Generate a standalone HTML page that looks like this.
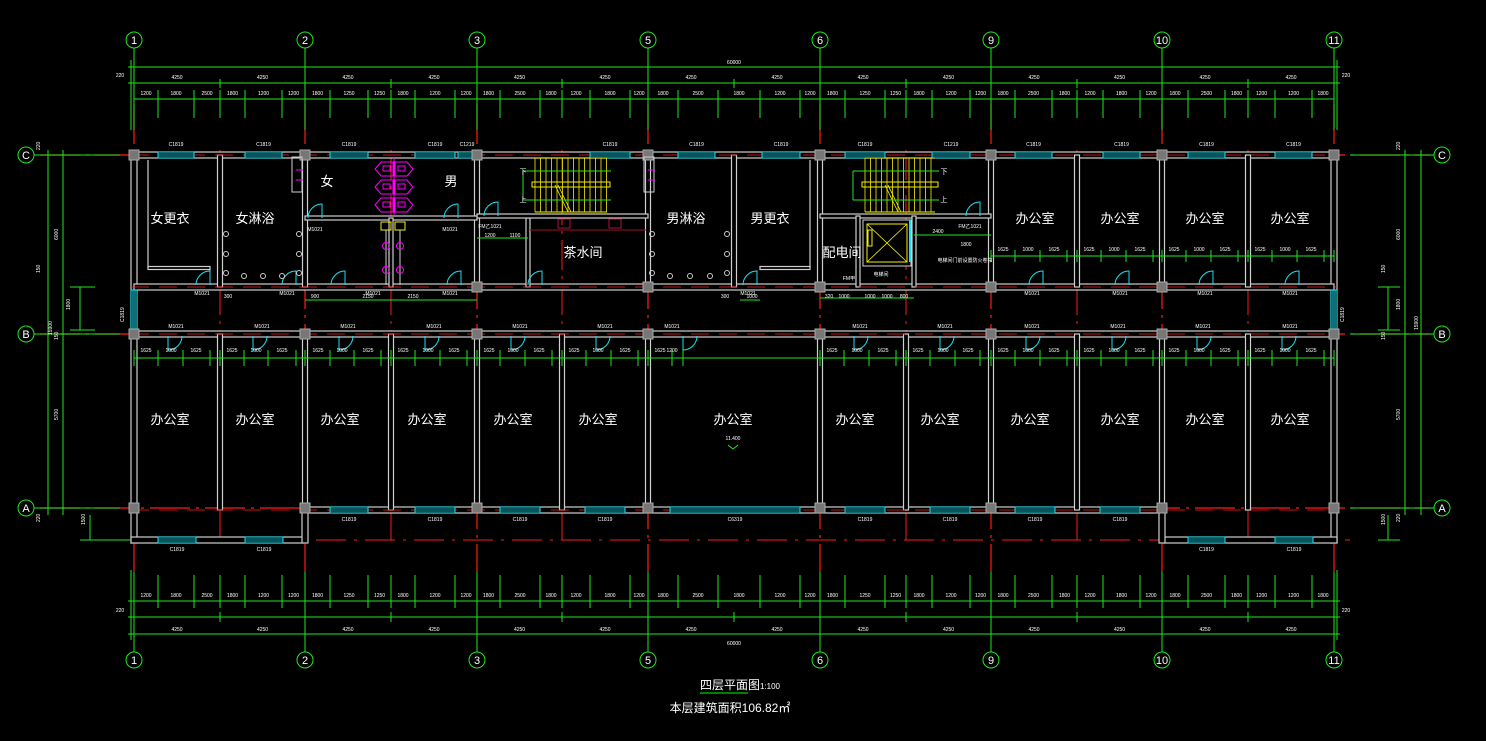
<!DOCTYPE html>
<html><head><meta charset="utf-8"><style>
html,body{margin:0;padding:0;background:#000;}
svg{display:block}
</style></head><body>
<svg id="s" width="1486" height="741" xmlns="http://www.w3.org/2000/svg" font-family="'Liberation Sans','Noto Sans CJK SC',sans-serif">
<rect width="1486" height="741" fill="#000"/>
<g id="g"></g>
<text x="740" y="689" fill="#fff" font-size="12" text-anchor="middle" font-family="'Liberation Sans','Noto Sans CJK SC',sans-serif">四层平面图<tspan font-size="8">1:100</tspan></text>
<line x1="700" y1="693" x2="748" y2="693" stroke="#0f0" stroke-width="1"/>
<text x="730" y="712" fill="#fff" font-size="12" text-anchor="middle" font-family="'Liberation Sans','Noto Sans CJK SC',sans-serif">本层建筑面积106.82㎡</text>
</svg>
<script>
var g=document.getElementById('g'),h='';
function L(x1,y1,x2,y2,c,w,d){h+='<line x1="'+x1+'" y1="'+y1+'" x2="'+x2+'" y2="'+y2+'" stroke="'+c+'" stroke-width="'+(w||1)+'"'+(d?' stroke-dasharray="'+d+'"':'')+'/>';}
function R(x,y,w,hh,c,f,sw){h+='<rect x="'+x+'" y="'+y+'" width="'+w+'" height="'+hh+'" stroke="'+c+'" fill="'+(f||'none')+'" stroke-width="'+(sw||1)+'"/>';}
function T(x,y,s,sz,c){h+='<text x="'+x+'" y="'+y+'" fill="'+(c||'#fff')+'" font-size="'+(sz||6)+'" text-anchor="middle">'+s+'</text>';}
var G='#1ee81e',RED='#ff1a1a',W='#cfcfcf',CY='#19e0f0',Y='#f5f000',M='#ff00ff';
var cols=[134,305,477,648,820,991,1162,1334],lab=['1','2','3','5','6','9','10','11'];
var rows=[155,334,508],rl=['C','B','A'];
cols.forEach(function(x){L(x,104,x,572,RED,1.2,'40 6 3 6');});
rows.forEach(function(y){L(40,y,1430,y,RED,1.2,'40 6 3 6');});
L(120,540,1350,540,RED,1,'30 8 3 8');
[220,391,562,906,1077,1248].forEach(function(x){L(x,150,x,545,RED,1,'30 6 3 6');});
cols.forEach(function(x,i){
 h+='<circle cx="'+x+'" cy="40" r="8" stroke="'+G+'" fill="none"/>';T(x,44,lab[i],11);
 h+='<circle cx="'+x+'" cy="660" r="8" stroke="'+G+'" fill="none"/>';T(x,664,lab[i],11);
 L(x,48,x,130,G);L(x,572,x,652,G);
});
rows.forEach(function(y,i){
 h+='<circle cx="26" cy="'+y+'" r="8" stroke="'+G+'" fill="none"/>';T(26,y+4,rl[i],11);
 h+='<circle cx="1442" cy="'+y+'" r="8" stroke="'+G+'" fill="none"/>';T(1442,y+4,rl[i],11);
 L(34,y,120,y,G);L(1350,y,1434,y,G);
});
L(128,67,1340,67,G);L(128,83,1340,83,G);L(134,99,1334,99,G);
T(734,64,'60000',5);
var q=[134,220,305,391,477,562,648,734,820,906,991,1077,1162,1248,1334];
['4250','4250','4250','4250','4250','4250','4250','4250','4250','4250','4250','4250','4250','4250'].forEach(function(t,i){T((q[i]+q[i+1])/2,79,t,5);T((q[i]+q[i+1])/2,631,t,5);});
q.forEach(function(x){L(x,79,x,88,G);L(x,612,x,622,G);});
var det=[134,158,194,220,245,282,305,330,368,391,415,455,477,500,540,562,590,630,648,678,718,760,800,820,845,885,906,932,970,991,1015,1052,1077,1103,1140,1162,1188,1225,1248,1275,1312,1334];
var dl=['1200','1800','2500','1800','1200','1200','1800','1250','1250','1800','1200','1200','1800','2500','1800','1200','1800'];
for(var i=0;i<det.length;i++){L(det[i],90,det[i],118,G);L(det[i],575,det[i],608,G);if(i<det.length-1){var t=dl[i%dl.length];T((det[i]+det[i+1])/2,95,t,5);T((det[i]+det[i+1])/2,597,t,5);}}
L(128,601,1340,601,G);L(128,617,1340,617,G);L(128,634,1340,634,G);
T(734,645,'60000',5);
T(120,77,'220',5);T(1346,77,'220',5);T(120,612,'220',5);T(1346,612,'220',5);
L(131,60,131,130,G);L(1337,60,1337,130,G);L(131,570,131,640,G);L(1337,570,1337,640,G);
L(48,150,48,515,G);L(63,150,63,515,G);L(1405,150,1405,515,G);L(1421,150,1421,515,G);
L(80,287,80,330,G);L(1388,287,1388,330,G);L(70,287,95,287,G);L(70,330,95,330,G);L(1378,287,1400,287,G);L(1378,330,1400,330,G);
L(90,515,90,540,G);L(80,540,130,540,G);L(1378,540,1400,540,G);L(1388,515,1388,540,G);
[[40,150,'220'],[58,240,'6000'],[40,273,'150'],[70,310,'1800'],[58,340,'150'],[58,420,'5700'],[40,522,'220'],[85,525,'1500'],[1400,150,'220'],[1400,240,'6000'],[1385,273,'150'],[1400,310,'1800'],[1385,340,'150'],[1400,420,'5700'],[1400,522,'220'],[1385,525,'1500'],[1418,330,'15900'],[52,335,'15900']].forEach(function(a){h+='<text x="'+a[0]+'" y="'+a[1]+'" fill="#fff" font-size="5" transform="rotate(-90 '+a[0]+' '+a[1]+')">'+a[2]+'</text>';});
function HW(x1,x2,y,t){t=t||6;R(x1,y-t/2,x2-x1,t,W,'#000',1.2);}
function VW(x,y1,y2,t){t=t||6;R(x-t/2,y1,t,y2-y1,W,'#000',1.2);}
HW(131,1337,155);
VW(134,152,543);VW(1334,152,543);
HW(305,1162,510);HW(131,305,540);HW(1162,1337,540);VW(305,508,543);VW(1162,508,543);
HW(134,991,287);HW(991,1334,287);HW(134,1334,334);
[220,305,477,648,734,820,991,1077,1162,1248].forEach(function(x){VW(x,155,287,5);});
[220,305,391,477,562,648,820,906,991,1077,1162,1248].forEach(function(x){VW(x,334,510,5);});
VW(528,218,287,4);HW(477,648,216,4);HW(820,991,216,4);VW(858,216,287,4);VW(914,216,287,4);
HW(305,477,218,4);VW(391,218,287,4);
HW(148,210,268,3);L(148,160,148,268,W,1.2);L(210,268,210,282,W);
HW(760,810,268,3);L(810,160,810,268,W,1.2);
[155,287,334,510].forEach(function(y){L(131,y,1337,y,RED,0.8,'18 10');});
function WH(x1,x2,y,lb,ly){R(x1,y-3,x2-x1,6,CY,'#000',1);L(x1,y-1,x2,y-1,CY,0.8);L(x1,y+1,x2,y+1,CY,0.8);if(lb)T((x1+x2)/2,ly,lb,5);}
[[158,194,'C1819'],[245,282,'C1819'],[330,368,'C1819'],[415,455,'C1819'],[458,476,'C1219'],[590,630,'C1819'],[678,715,'C1819'],[762,800,'C1819'],[845,885,'C1819'],[932,970,'C1219'],[1015,1052,'C1819'],[1103,1140,'C1819'],[1188,1225,'C1819'],[1275,1312,'C1819']].forEach(function(a){WH(a[0],a[1],155,a[2],146);});
[[330,368,'C1819'],[415,455,'C1819'],[500,540,'C1819'],[585,625,'C1819'],[670,800,'C6319'],[845,885,'C1819'],[930,970,'C1819'],[1015,1055,'C1819'],[1100,1140,'C1819']].forEach(function(a){WH(a[0],a[1],510,a[2],521);});
[[158,196,'C1819'],[245,283,'C1819'],[1188,1225,'C1819'],[1275,1313,'C1819']].forEach(function(a){WH(a[0],a[1],540,a[2],551);});
R(131,290,6,40,CY,'#000');L(133,290,133,330,CY);L(135,290,135,330,CY);
R(1331,290,6,40,CY,'#000');L(1333,290,1333,330,CY);L(1335,290,1335,330,CY);
h+='<text x="124" y="322" fill="#fff" font-size="5" transform="rotate(-90 124 322)">C1819</text>';
h+='<text x="1344" y="322" fill="#fff" font-size="5" transform="rotate(-90 1344 322)">C1819</text>';
cols.forEach(function(x){[155,287,334,508].forEach(function(y){if(y==287&&[134,220,305,1334].indexOf(x)>=0)return;R(x-5,y-5,10,10,'#aaa','#777');});});
function DR(x,y,dir){var r=14;if(dir==1){h+='<path d="M'+x+' '+y+' L'+x+' '+(y-r)+' A'+r+' '+r+' 0 0 0 '+(x-r)+' '+y+'" stroke="'+CY+'" fill="none"/>';}
else{h+='<path d="M'+x+' '+y+' L'+x+' '+(y+r)+' A'+r+' '+r+' 0 0 0 '+(x+r)+' '+y+'" stroke="'+CY+'" fill="none"/>';}}
[210,296,345,461,757].forEach(function(x){DR(x,285,1);});
[1043,1129,1213,1299].forEach(function(x){DR(x,285,1);});
[168,253,339,425,511,596,683,854,940,1026,1112,1197,1282].forEach(function(x){DR(x,336,0);});
DR(322,218,1);DR(458,218,1);DR(542,285,1);DR(980,216,1);DR(498,216,1);
[[202,295,'M1021'],[287,295,'M1021'],[373,295,'M1021'],[450,295,'M1021'],[748,295,'M1021'],[1032,295,'M1021'],[1120,295,'M1021'],[1205,295,'M1021'],[1290,295,'M1021'],[315,231,'M1021'],[450,231,'M1021'],[849,280,'FM甲'],[490,228,'FM乙1021'],[970,228,'FM乙1021']].forEach(function(a){T(a[0],a[1],a[2],5);});
[176,262,348,434,520,605,672,860,945,1032,1118,1203,1290].forEach(function(x){T(x,328,'M1021',5);});
L(134,358,1334,358,G);L(991,256,1334,256,G);
[134,158,183,210,220,244,268,296,305,330,354,381,391,415,440,467,477,500,525,552,562,586,611,638,648,672,683,820,844,869,896,906,930,955,980,991,1015,1040,1067,1077,1101,1126,1153,1162,1186,1211,1238,1248,1272,1297,1324,1334].forEach(function(x){L(x,350,x,366,G);});
[[146,352,'1625'],[171,352,'1000'],[196,352,'1625'],[232,352,'1625'],[256,352,'1000'],[282,352,'1625'],[318,352,'1625'],[342,352,'1000'],[368,352,'1625'],[403,352,'1625'],[428,352,'1000'],[454,352,'1625'],[489,352,'1625'],[513,352,'1000'],[539,352,'1625'],[574,352,'1625'],[598,352,'1000'],[625,352,'1625'],[660,352,'1625'],[672,352,'1200'],[832,352,'1625'],[857,352,'1000'],[883,352,'1625'],[918,352,'1625'],[943,352,'1000'],[968,352,'1625'],[1003,352,'1625'],[1028,352,'1000'],[1054,352,'1625'],[1089,352,'1625'],[1114,352,'1000'],[1140,352,'1625'],[1174,352,'1625'],[1199,352,'1000'],[1225,352,'1625'],[1260,352,'1625'],[1285,352,'1000'],[1311,352,'1625']].forEach(function(a){T(a[0],a[1],a[2],5);});
[1003,1028,1054,1089,1114,1140,1174,1199,1225,1260,1285,1311].forEach(function(x,i){T(x,251,['1625','1000','1625'][i%3],5);});
[991,1015,1040,1067,1077,1101,1126,1153,1162,1186,1211,1238,1248,1272,1297,1324,1334].forEach(function(x){L(x,250,x,262,G);});
L(305,300,477,300,G);L(820,298,914,298,G);L(740,300,760,300,G);L(477,238,528,238,G);L(914,235,991,235,G);
[[315,298,'900'],[368,298,'2150'],[413,298,'2150'],[228,298,'300'],[725,298,'300'],[752,298,'1000'],[829,298,'320'],[844,298,'1000'],[870,298,'1000'],[887,298,'1000'],[904,298,'800'],[938,233,'2400'],[966,246,'1800'],[490,237,'1200'],[515,237,'1100'],[965,262,'电梯间门前设置防火卷帘'],[881,276,'电梯间']].forEach(function(a){T(a[0],a[1],a[2],5);});
function ST(x1,x2){for(var x=x1;x<=x2;x+=5.5){L(x,158,x,212,Y,0.8);}L(x1,158,x2,158,Y);L(x1,212,x2,212,Y);R(x1-3,182,x2-x1+6,5,Y);L(x1+20,185,x1+33,212,Y,0.8);L(x1+23,185,x1+36,212,Y,0.8);
L(x1-12,171,x2+4,171,G);L(x1-12,200,x2+4,200,G);L(x1-12,171,x1-12,200,G);}
ST(535,607);ST(865,935);
T(523,174,'下',7);T(523,202,'上',7);T(944,174,'下',7);T(944,202,'上',7);
R(863,220,48,46,W,'#000');R(867,224,40,38,Y);L(867,224,907,262,Y,0.8);L(907,224,867,262,Y,0.8);R(868,230,4,16,Y);
L(910,220,910,262,CY,2);
L(530,230,646,230,'#a01030');R(558,219,12,9,'#b01040');R(609,219,12,9,'#b01040');
function TS(x,y,f){var s=f?-1:1;h+='<path d="M'+x+' '+y+' l'+(-12*s)+' 0 l'+(-6*s)+' 7 l'+(6*s)+' 7 l'+(12*s)+' 0 z" stroke="'+M+'" fill="none"/>';R(f?x+3:x-10,y+4,7,5,M);}
[162,180,198].forEach(function(y){TS(393,y,0);TS(395,y,1);});
L(394,158,394,216,M);
R(381,222,10,8,Y);R(395,222,10,8,Y);L(386,230,386,285,W);L(400,230,400,285,W);
[246,270].forEach(function(y){h+='<circle cx="386" cy="'+y+'" r="3.5" stroke="'+M+'" fill="none"/><circle cx="400" cy="'+y+'" r="3.5" stroke="'+M+'" fill="none"/>';});
R(292,157,10,35,W);R(644,157,10,35,W);L(296,170,303,170,M);L(296,180,303,180,M);L(648,170,655,170,M);L(648,180,655,180,M);
[[226,234],[226,254],[226,273],[299,234],[299,254],[299,273],[652,234],[652,254],[652,273],[727,234],[727,254],[727,273]].forEach(function(a){h+='<circle cx="'+a[0]+'" cy="'+a[1]+'" r="2.5" stroke="#ccc" fill="none"/>';});
[244,263,282,670,690,710].forEach(function(x){h+='<circle cx="'+x+'" cy="276" r="2.5" stroke="#ccc" fill="none"/>';});
function RL(x,y,s){T(x,y,s,13);}
RL(170,223,'女更衣');RL(255,223,'女淋浴');RL(327,186,'女');RL(451,186,'男');RL(583,257,'茶水间');RL(686,223,'男淋浴');RL(770,223,'男更衣');RL(842,257,'配电间');
[1035,1120,1205,1290].forEach(function(x){RL(x,223,'办公室');});
[170,255,340,427,513,598,855,940,1030,1120,1205,1290].forEach(function(x){RL(x,424,'办公室');});
RL(733,424,'办公室');T(733,440,'11.400',5);h+='<path d="M728 445 l5 4 l5 -4" stroke="'+G+'" fill="none"/>';
g.innerHTML=h;
</script>
</body></html>
